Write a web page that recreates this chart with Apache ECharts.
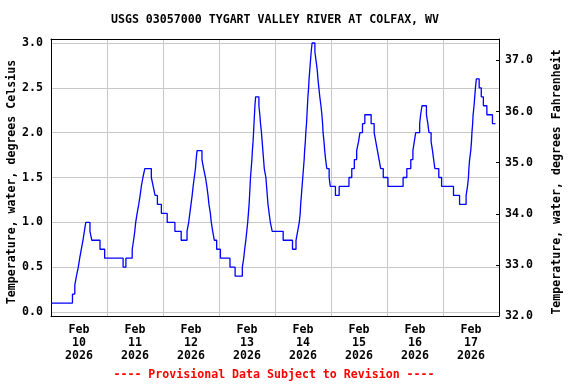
<!DOCTYPE html>
<html>
<head>
<meta charset="utf-8">
<script src="https://cdn.jsdelivr.net/npm/echarts@6/dist/echarts.min.js"></script>
<style>html,body{margin:0;padding:0;background:#fff}#c{width:576px;height:384px}</style>
</head>
<body>
<div id="c"></div>
<script>
// Hours since Feb 10 2026 00:00 at which the reading changes, and the reading (deg C)
const hours = [0, 9.2, 10.2, 10.9, 11.7, 12.3, 13.0, 13.7, 14.3, 14.9, 16.7, 17.5, 21.0, 23.0, 30.9, 32.1, 34.8, 35.4, 35.9, 36.3, 36.9, 37.6, 38.2, 38.7, 39.4, 40.2, 43.0, 43.8, 44.6, 45.6, 47.3, 49.8, 53.1, 55.8, 58.3, 59.0, 59.5, 60.0, 60.5, 60.9, 61.4, 61.9, 62.2, 62.6, 64.7, 65.4, 66.2, 66.8, 67.3, 67.7, 68.3, 68.7, 69.3, 70.0, 71.0, 72.6, 76.7, 78.9, 82.0, 82.6, 83.0, 83.5, 83.9, 84.3, 84.6, 84.9, 85.1, 85.3, 85.5, 85.8, 86.1, 86.3, 86.6, 86.8, 87.0, 87.2, 87.4, 87.7, 89.1, 89.5, 89.8, 90.2, 90.5, 90.8, 91.1, 91.4, 92.1, 92.4, 92.7, 93.0, 93.5, 94.0, 94.8, 99.5, 103.5, 105.0, 105.7, 106.4, 106.8, 107.0, 107.3, 107.6, 107.9, 108.2, 108.5, 108.7, 109.0, 109.2, 109.5, 109.7, 109.9, 110.1, 110.4, 110.6, 110.9, 111.2, 111.5, 111.9, 113.1, 113.6, 114.1, 114.4, 114.8, 115.2, 115.7, 116.1, 116.4, 116.6, 117.0, 117.3, 117.7, 118.2, 119.2, 119.7, 121.9, 123.5, 127.7, 128.9, 130.0, 131.0, 131.8, 132.4, 133.5, 134.5, 137.2, 138.5, 139.2, 139.9, 140.6, 141.3, 142.4, 144.4, 150.9, 152.5, 154.2, 155.1, 155.7, 156.3, 158.0, 158.4, 159.0, 160.9, 161.5, 162.0, 162.9, 163.5, 164.0, 164.5, 166.2, 167.4, 172.5, 175.1, 177.9, 178.5, 178.9, 179.1, 179.4, 179.9, 180.2, 180.4, 180.7, 180.9, 181.3, 181.6, 181.9, 182.3, 183.5, 184.4, 185.3, 186.8, 189.2, 190.5];
const tempC = [0.1, 0.2, 0.3, 0.4, 0.5, 0.6, 0.7, 0.8, 0.9, 1.0, 0.9, 0.8, 0.7, 0.6, 0.5, 0.6, 0.7, 0.8, 0.9, 1.0, 1.1, 1.2, 1.3, 1.4, 1.5, 1.6, 1.5, 1.4, 1.3, 1.2, 1.1, 1.0, 0.9, 0.8, 0.9, 1.0, 1.1, 1.2, 1.3, 1.4, 1.5, 1.6, 1.7, 1.8, 1.7, 1.6, 1.5, 1.4, 1.3, 1.2, 1.1, 1.0, 0.9, 0.8, 0.7, 0.6, 0.5, 0.4, 0.5, 0.6, 0.7, 0.8, 0.9, 1.0, 1.1, 1.2, 1.3, 1.4, 1.5, 1.6, 1.7, 1.8, 1.9, 2.0, 2.1, 2.2, 2.3, 2.4, 2.3, 2.2, 2.1, 2.0, 1.9, 1.8, 1.7, 1.6, 1.5, 1.4, 1.3, 1.2, 1.1, 1.0, 0.9, 0.8, 0.7, 0.8, 0.9, 1.0, 1.1, 1.2, 1.3, 1.4, 1.5, 1.6, 1.7, 1.8, 1.9, 2.0, 2.1, 2.2, 2.3, 2.4, 2.5, 2.6, 2.7, 2.8, 2.9, 3.0, 2.9, 2.8, 2.7, 2.6, 2.5, 2.4, 2.3, 2.2, 2.1, 2.0, 1.9, 1.8, 1.7, 1.6, 1.5, 1.4, 1.3, 1.4, 1.5, 1.6, 1.7, 1.8, 1.9, 2.0, 2.1, 2.2, 2.1, 2.0, 1.9, 1.8, 1.7, 1.6, 1.5, 1.4, 1.5, 1.6, 1.7, 1.8, 1.9, 2.0, 2.1, 2.2, 2.3, 2.2, 2.1, 2.0, 1.9, 1.8, 1.7, 1.6, 1.5, 1.4, 1.3, 1.2, 1.3, 1.4, 1.5, 1.6, 1.7, 1.8, 1.9, 2.0, 2.1, 2.2, 2.3, 2.4, 2.5, 2.6, 2.5, 2.4, 2.3, 2.2, 2.1, 2.1];
const monthLabel = 'Feb';
const dayNumbers = ['10', '11', '12', '13', '14', '15', '16', '17'];
const yearLabel = '2026';
const celsiusRange = [0, 3];        // labelled every 0.5
const fahrenheitRange = [32, 37.42]; // labelled every 1.0 from 32
const titleText = 'USGS 03057000 TYGART VALLEY RIVER AT COLFAX, WV';
const footerText = '---- Provisional Data Subject to Revision ----';
const leftName = 'Temperature, water, degrees Celsius';
const rightName = 'Temperature, water, degrees Fahrenheit';

const FONT = '"DejaVu Sans Mono", monospace';
const fs = 11.6;
const black = '#000';
const gridGray = '#c8c8c8';

const chart = echarts.init(document.getElementById('c'), null, {renderer: 'canvas'});
const data = hours.map((h, i) => [h, tempC[i]]);
const spanH = dayNumbers.length * 24;
const frameLine = {show: true, onZero: false, lineStyle: {color: black, width: 1}};

chart.setOption({
  animation: false,
  backgroundColor: '#fff',
  grid: [
    {left: 51, top: 39, width: 448, height: 277, show: false},
    {left: 51, top: 43, width: 448, height: 269, show: false}
  ],
  graphic: [
    {type: 'text', x: 275, y: 20, style: {text: titleText, font: `bold ${fs}px ${FONT}`, fill: black, align: 'center', verticalAlign: 'middle'}},
    {type: 'text', x: 274, y: 375, style: {text: footerText, font: `bold ${fs}px ${FONT}`, fill: '#ff0000', align: 'center', verticalAlign: 'middle'}},
    {type: 'text', x: 12, y: 182, rotation: Math.PI / 2, style: {text: leftName, font: `bold ${fs}px ${FONT}`, fill: black, align: 'center', verticalAlign: 'middle'}},
    {type: 'text', x: 557, y: 182, rotation: Math.PI / 2, style: {text: rightName, font: `bold ${fs}px ${FONT}`, fill: black, align: 'center', verticalAlign: 'middle'}}
  ],
  xAxis: [
    {gridIndex: 0, type: 'value', min: 0, max: spanH, interval: 24, position: 'bottom',
     axisLine: frameLine, axisTick: {show: false}, axisLabel: {show: false},
     splitLine: {show: true, lineStyle: {color: gridGray, width: 1}}},
    {gridIndex: 0, type: 'category', position: 'bottom', boundaryGap: true,
     data: dayNumbers.map(d => `${monthLabel}\n${d}\n${yearLabel}`),
     axisLine: {show: false, onZero: false}, axisTick: {show: false}, splitLine: {show: false},
     axisLabel: {show: true, interval: 0, margin: 7, color: black, fontFamily: FONT, fontWeight: 'bold', fontSize: fs, lineHeight: 13}},
    {gridIndex: 0, type: 'value', min: 0, max: spanH, position: 'top',
     axisLine: frameLine, axisTick: {show: false}, axisLabel: {show: false}, splitLine: {show: false}},
    {gridIndex: 1, type: 'value', min: 0, max: spanH, show: false, axisLine: {onZero: false}}
  ],
  yAxis: [
    {gridIndex: 0, type: 'value', min: 0, max: 1, position: 'left',
     axisLine: frameLine, axisTick: {show: false}, axisLabel: {show: false}, splitLine: {show: false}},
    {gridIndex: 0, type: 'value', min: fahrenheitRange[0], max: fahrenheitRange[1], interval: 1, position: 'right',
     axisLine: frameLine,
     axisTick: {show: true, inside: true, length: 3, lineStyle: {color: black}},
     axisLabel: {show: true, margin: 6, showMaxLabel: false, formatter: v => v.toFixed(1), color: black, fontFamily: FONT, fontWeight: 'bold', fontSize: fs},
     splitLine: {show: false}},
    {gridIndex: 1, type: 'value', min: celsiusRange[0], max: celsiusRange[1], interval: 0.5, position: 'left',
     axisLine: {show: false, onZero: false}, axisTick: {show: false},
     axisLabel: {show: true, margin: 8, formatter: v => v.toFixed(1), color: black, fontFamily: FONT, fontWeight: 'bold', fontSize: fs},
     splitLine: {show: true, lineStyle: {color: gridGray, width: 1}}}
  ],
  series: [{
    type: 'line', xAxisIndex: 3, yAxisIndex: 2, data: data, step: 'end',
    showSymbol: false, symbol: 'none', clip: false,
    lineStyle: {color: '#0000ff', width: 1.3}, z: 5
  }]
});
</script>
</body>
</html>
